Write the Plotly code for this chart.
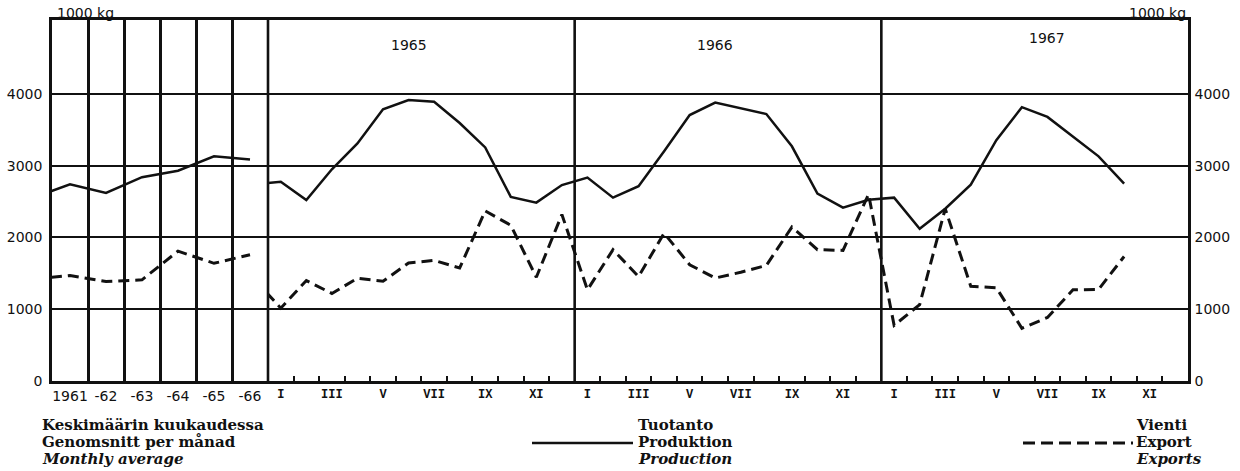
import plotly.graph_objects as go

# ---------------- data ----------------
# Annual monthly averages (left panel); "1960" is only a clipped lead-in stub
annual_labels = ["1960", "1961", "-62", "-63", "-64", "-65", "-66"]
annual_production = [2560, 2740, 2620, 2840, 2930, 3130, 3085]
annual_exports = [1420, 1470, 1385, 1410, 1810, 1640, 1760]

# Monthly values (right panel); Dec 1964 is only a clipped lead-in stub
production_dec_1964 = 2745
exports_dec_1964 = 1405
production_1965 = [2775, 2520, 2950, 3310, 3785, 3915, 3890, 3595, 3255, 2565, 2485, 2730]
production_1966 = [2835, 2555, 2715, 3200, 3705, 3880, 3800, 3720, 3270, 2610, 2415, 2525]
production_1967 = [2555, 2120, 2400, 2735, 3355, 3815, 3680, 3400, 3130, 2750]
exports_1965 = [1015, 1400, 1220, 1430, 1390, 1645, 1680, 1575, 2370, 2170, 1445, 2320]
exports_1966 = [1270, 1830, 1455, 2060, 1620, 1435, 1515, 1610, 2145, 1830, 1820, 2600]
exports_1967 = [775, 1065, 2400, 1320, 1300, 735, 885, 1270, 1275, 1735]

years = ["1965", "1966", "1967"]
month_roman = ["I", "II", "III", "IV", "V", "VI", "VII", "VIII", "IX", "X", "XI", "XII"]
y_ticks = [0, 1000, 2000, 3000, 4000]
unit_label = "1000 kg"

legend_left = ["Keskimäärin kuukaudessa", "Genomsnitt per månad", "Monthly average"]
legend_prod = ["Tuotanto", "Produktion", "Production"]
legend_exp = ["Vienti", "Export", "Exports"]

# ---------------- layout geometry ----------------
W, H = 1240, 471
ML, MR, MT, MB = 52, 52, 20, 90
PW = W - ML - MR
PH = H - MT - MB
split_px = 268
split = (split_px - ML) / PW
Y_MAX = 5030

def px_x(px):
    return (px - ML) / PW

def px_y(py):
    return (H - MB - py) / PH

INK = "#111111"
num_font = dict(family="DejaVu Sans", size=14, color=INK)
text_font = dict(family="DejaVu Serif", size=15, color=INK, weight="bold")

# ---------------- x positions ----------------
n_ann = len(annual_labels)
ann_x = list(range(-1, n_ann - 1))

prod_monthly = [production_dec_1964] + production_1965 + production_1966 + production_1967
exp_monthly = [exports_dec_1964] + exports_1965 + exports_1966 + exports_1967
mon_x = list(range(-1, len(prod_monthly) - 1))
n_months_axis = 12 * len(years)

fig = go.Figure()

line_solid = dict(color=INK, width=2.5)
line_dash = dict(color=INK, width=3, dash="11px,6px")

fig.add_trace(go.Scatter(x=ann_x, y=annual_production, mode="lines", line=line_solid,
                         xaxis="x", yaxis="y", showlegend=False, hoverinfo="skip"))
fig.add_trace(go.Scatter(x=ann_x, y=annual_exports, mode="lines", line=line_dash,
                         xaxis="x", yaxis="y", showlegend=False, hoverinfo="skip"))
fig.add_trace(go.Scatter(x=mon_x, y=prod_monthly, mode="lines", line=line_solid,
                         xaxis="x2", yaxis="y", showlegend=False, hoverinfo="skip"))
fig.add_trace(go.Scatter(x=mon_x, y=exp_monthly, mode="lines", line=line_dash,
                         xaxis="x2", yaxis="y", showlegend=False, hoverinfo="skip"))
# invisible trace to activate right-hand axis
fig.add_trace(go.Scatter(x=[0], y=[0], mode="markers", marker=dict(opacity=0),
                         xaxis="x2", yaxis="y2", showlegend=False, hoverinfo="skip"))

# month tick labels (odd months) and boundary ticks
m_tickvals, m_ticktext = [], []
for yi in range(len(years)):
    for mi in range(0, 12, 2):
        m_tickvals.append(yi * 12 + mi)
        m_ticktext.append(month_roman[mi])
boundary_ticks = [k + 0.5 for k in range(n_months_axis - 1) if (k + 1) % 12 != 0]

fig.update_layout(
    template="none",
    width=W, height=H,
    margin=dict(l=ML, r=MR, t=MT, b=MB, pad=0),
    paper_bgcolor="white", plot_bgcolor="white",
    xaxis=dict(
        domain=[0, split], range=[-0.5, n_ann - 1.5], anchor="y", automargin=False,
        tickvals=list(range(0, n_ann - 1)), ticktext=annual_labels[1:],
        ticks="", tickfont=num_font, showgrid=False, zeroline=False,
        showline=True, linecolor=INK, linewidth=2.5, mirror=True,
        minor=dict(tickvals=[k + 0.5 for k in range(n_ann - 2)], showgrid=True,
                   gridcolor=INK, gridwidth=2.6, ticks=""),
        fixedrange=True,
    ),
    xaxis2=dict(
        domain=[split, 1], range=[-0.5, n_months_axis - 0.5], anchor="y", automargin=False,
        tickvals=m_tickvals, ticktext=m_ticktext, ticks="",
        tickfont=dict(family="Liberation Mono", size=12, color=INK, weight="bold"),
        showgrid=False, zeroline=False,
        showline=True, linecolor=INK, linewidth=2.5, mirror=True,
        minor=dict(tickvals=boundary_ticks, ticks="inside", ticklen=5,
                   tickwidth=1.5, tickcolor=INK, showgrid=False),
        fixedrange=True,
    ),
    yaxis=dict(
        range=[0, Y_MAX], anchor="x", tickvals=y_ticks, ticks="", automargin=False,
        tickfont=num_font, showgrid=True, gridcolor=INK, gridwidth=1.6,
        zeroline=False, showline=True, linecolor=INK, linewidth=2.5,
        ticklabelstandoff=4, fixedrange=True,
    ),
    yaxis2=dict(
        range=[0, Y_MAX], anchor="x2", overlaying="y", side="right", automargin=False,
        tickvals=y_ticks, ticks="", tickfont=num_font, showgrid=False,
        zeroline=False, showline=True, linecolor=INK, linewidth=2.5,
        ticklabelstandoff=1, fixedrange=True,
    ),
)

# year separators in the monthly panel (incl. the panel divider)
shapes = []
for yi in range(len(years)):
    xs = split + (1 - split) * (yi * 12) / n_months_axis
    shapes.append(dict(type="line", xref="paper", yref="paper", x0=xs, x1=xs,
                       y0=0, y1=1, line=dict(color=INK, width=2.6)))

# legend line samples
shapes.append(dict(type="line", xref="paper", yref="paper", x0=px_x(532), x1=px_x(633),
                   y0=px_y(443), y1=px_y(443), line=dict(color=INK, width=2.5)))
shapes.append(dict(type="line", xref="paper", yref="paper", x0=px_x(1023), x1=px_x(1133),
                   y0=px_y(443), y1=px_y(443), line=dict(color=INK, width=3, dash="12px,6px")))
fig.update_layout(shapes=shapes)

annotations = []
# unit labels
unit_font = dict(family="DejaVu Sans", size=14, color=INK)
annotations.append(dict(text=unit_label, xref="paper", yref="paper", x=px_x(55), y=1,
                        xanchor="left", yanchor="bottom", yshift=-3, showarrow=False,
                        font=unit_font))
annotations.append(dict(text=unit_label, xref="paper", yref="paper", x=1, y=1,
                        xanchor="right", yanchor="bottom", yshift=-3, showarrow=False,
                        font=unit_font))
# year labels
year_pos = [(5.0, 45), (17.0, 45), (30.0, 38)]
for yl, (xp, py) in zip(years, year_pos):
    annotations.append(dict(text=yl, xref="x2", yref="paper", x=xp, y=px_y(py),
                            xanchor="center", yanchor="middle", showarrow=False,
                            font=dict(family="DejaVu Sans", size=14, color=INK)))

# legend texts
rows_py = [425, 442, 459]
def add_block(lines, px):
    for i, (t, py) in enumerate(zip(lines, rows_py)):
        txt = f"<i>{t}</i>" if i == 2 else t
        annotations.append(dict(text=txt, xref="paper", yref="paper", x=px_x(px), y=px_y(py),
                                xanchor="left", yanchor="middle", showarrow=False,
                                font=text_font))
add_block(legend_left, 40)
add_block(legend_prod, 636)
add_block(legend_exp, 1134)

fig.update_layout(annotations=annotations)

fig.write_html("out.html", config={"displayModeBar": False},
               post_script="document.body.style.margin='0';document.body.style.overflow='hidden';")
